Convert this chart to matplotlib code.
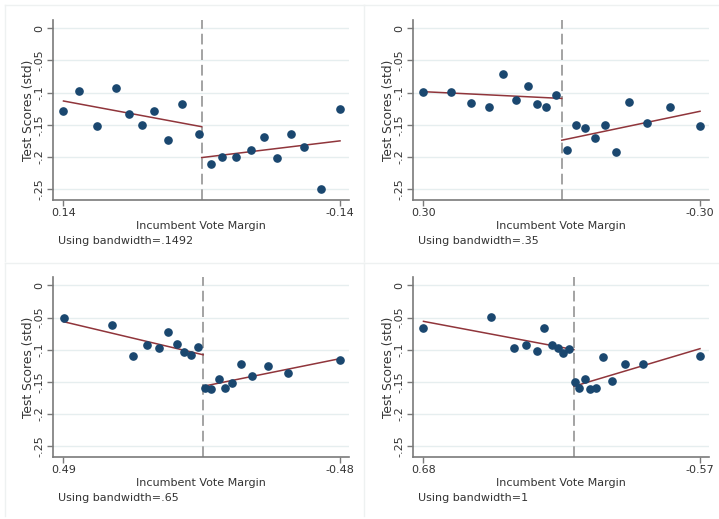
import matplotlib
matplotlib.use("Agg")
import matplotlib.pyplot as plt
from matplotlib.lines import Line2D

# bandwidths and x-axis end labels per panel
bandwidth_labels = [".1492", ".35", ".65", "1"]
x_ends = [(0.14, -0.14), (0.30, -0.30), (0.49, -0.48), (0.68, -0.57)]
x_tick_labels = [("0.14", "-0.14"), ("0.30", "-0.30"), ("0.49", "-0.48"), ("0.68", "-0.57")]

# binned scatter points (left of cutoff, then right)
p1_x = [0.140, 0.124, 0.106, 0.087, 0.074, 0.061, 0.048, 0.034, 0.020, 0.003,
        -0.009, -0.021, -0.035, -0.050, -0.063, -0.076, -0.090, -0.104, -0.121, -0.140]
p1_y = [-0.128, -0.097, -0.152, -0.093, -0.134, -0.151, -0.128, -0.173, -0.118, -0.165,
        -0.211, -0.200, -0.200, -0.190, -0.169, -0.202, -0.165, -0.185, -0.250, -0.126]

p2_x = [0.300, 0.240, 0.196, 0.157, 0.128, 0.100, 0.074, 0.053, 0.034, 0.012,
        -0.012, -0.030, -0.051, -0.073, -0.093, -0.117, -0.146, -0.185, -0.234, -0.299]
p2_y = [-0.099, -0.099, -0.116, -0.122, -0.071, -0.112, -0.089, -0.117, -0.122, -0.103,
        -0.190, -0.150, -0.155, -0.170, -0.150, -0.193, -0.115, -0.148, -0.122, -0.152]

p3_x = [0.488, 0.321, 0.245, 0.198, 0.155, 0.122, 0.091, 0.067, 0.043, 0.017,
        -0.007, -0.029, -0.054, -0.077, -0.102, -0.132, -0.173, -0.228, -0.298, -0.480]
p3_y = [-0.051, -0.061, -0.110, -0.092, -0.097, -0.072, -0.091, -0.104, -0.109, -0.096,
        -0.160, -0.161, -0.146, -0.160, -0.152, -0.122, -0.141, -0.126, -0.136, -0.116]

p4_x = [0.680, 0.375, 0.270, 0.216, 0.168, 0.134, 0.101, 0.072, 0.050, 0.023,
        -0.003, -0.025, -0.049, -0.073, -0.100, -0.132, -0.174, -0.231, -0.313, -0.570]
p4_y = [-0.066, -0.049, -0.098, -0.093, -0.102, -0.066, -0.092, -0.097, -0.105, -0.099,
        -0.151, -0.159, -0.145, -0.161, -0.159, -0.111, -0.148, -0.123, -0.123, -0.110]

# fitted line values: (at outer edge, at cutoff) for each side
fit_left = [(-0.113, -0.153), (-0.0985, -0.109), (-0.0565, -0.108), (-0.056, -0.100)]
fit_right = [(-0.201, -0.175), (-0.174, -0.129), (-0.157, -0.114), (-0.157, -0.0985)]

scatter_x = [p1_x, p2_x, p3_x, p4_x]
scatter_y = [p1_y, p2_y, p3_y, p4_y]

y_ticks = [0, -0.05, -0.1, -0.15, -0.2, -0.25]
y_tick_labels = ["0", "-.05", "-.1", "-.15", "-.2", "-.25"]

NAVY = "#1a476f"
MAROON = "#90353b"
GRID = "#e6eeef"
AXIS = "#7a7a7a"
TEXT = "#333333"

W, H = 719, 519
plt.rcParams["font.family"] = "DejaVu Sans"
plt.rcParams["font.size"] = 8

fig = plt.figure(figsize=(W / 100, H / 100), dpi=100)
fig.patch.set_facecolor("white")

# axes boxes in pixels: left, top, right, bottom
boxes = [(53, 20, 349, 200), (413, 20, 709, 200),
         (53, 277, 349, 457), (413, 277, 709, 457)]

# faint panel frames
for x0, y0 in [(5, 5), (364, 5), (5, 263), (364, 263)]:
    fig.add_artist(Line2D([x0 / W, min(x0 + 359, W) / W], [1 - y0 / H] * 2,
                          color="#eef1f1", lw=1, transform=fig.transFigure))
    fig.add_artist(Line2D([x0 / W] * 2, [1 - y0 / H, 1 - min(y0 + 256, H - 3) / H],
                          color="#eef1f1", lw=1, transform=fig.transFigure))

for i in range(4):
    l, t, r, b = boxes[i]
    ax = fig.add_axes([l / W, 1 - b / H, (r - l) / W, (b - t) / H])
    xl, xr = x_ends[i]
    span = xl - xr
    ax.set_xlim(xl + span * 10.5 / 277, xr - span * 9 / 277)
    ax.set_ylim(-0.267, 0.013)

    for yv in y_ticks:
        ax.axhline(yv, color=GRID, lw=1, zorder=0)
    ax.axvline(0, color="#a3a3a3", lw=1.4, ls=(0, (5.5, 2.5)), zorder=1)

    ax.plot([xl, 0], fit_left[i], color=MAROON, lw=1.1, zorder=2)
    ax.plot([0, xr], fit_right[i], color=MAROON, lw=1.1, zorder=2)
    ax.plot(scatter_x[i], scatter_y[i], "o", color=NAVY, ms=5.2, mec=NAVY, zorder=3)

    ax.set_yticks(y_ticks)
    ax.set_yticklabels(y_tick_labels, rotation=90, va="center", color=TEXT)
    ax.set_xticks([xl, xr])
    ax.set_xticklabels(x_tick_labels[i], color=TEXT)
    ax.tick_params(axis="both", colors=AXIS, labelcolor=TEXT, length=4, width=1)
    ax.tick_params(axis="y", pad=2)
    ax.tick_params(axis="x", pad=2)
    for s in ["top", "right"]:
        ax.spines[s].set_visible(False)
    for s in ["left", "bottom"]:
        ax.spines[s].set_color(AXIS)
        ax.spines[s].set_linewidth(1.2)

    ax.set_ylabel("Test Scores (std)", color=TEXT, labelpad=0, fontsize=8.8)
    ax.set_xlabel("Incumbent Vote Margin", color=TEXT, labelpad=2)
    fig.text((l + 5) / W, 1 - (b + 41) / H, "Using bandwidth=" + bandwidth_labels[i],
             color=TEXT, va="center", ha="left")

fig.savefig("out.png", dpi=100)
